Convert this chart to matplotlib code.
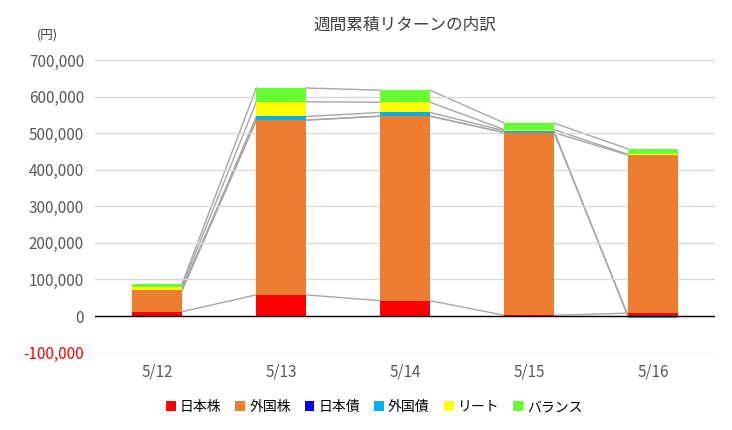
import numpy as np
import matplotlib.pyplot as plt

plt.rcParams['font.family'] = 'Noto Sans CJK JP'

dates = ['5/12', '5/13', '5/14', '5/15', '5/16']
series = ['日本株', '外国株', '日本債', '外国債', 'リート', 'バランス']
colors = ['#ff0000', '#ed7d31', '#0000ff', '#00b0f0', '#ffff00', '#66ff33']
values = [
    [12000, 58000, 42000, 2000, 8000],        # 日本株
    [58000, 478000, 505000, 500000, 432000],  # 外国株
    [0, 0, 0, 0, -1000],                      # 日本債
    [2000, 10000, 10000, 5000, -3000],        # 外国債
    [8000, 40000, 28000, 3000, 2000],         # リート
    [8000, 38000, 33000, 18000, 15000],       # バランス
]

fig, ax = plt.subplots(figsize=(7.32, 4.30), dpi=100)
fig.subplots_adjust(left=0.13, right=0.977, top=0.86, bottom=0.18)

x = np.arange(len(dates))
w = 0.4
pos = np.zeros(len(dates))
neg = np.zeros(len(dates))
tops = []
for name, c, v in zip(series, colors, values):
    v = np.array(v, dtype=float)
    base = np.where(v >= 0, pos, neg)
    ax.bar(x, v, w, bottom=base, color=c, label=name, zorder=2)
    pos = np.where(v >= 0, pos + v, pos)
    neg = np.where(v < 0, neg + v, neg)
    tops.append(base + v)

for t in tops:
    for i in range(len(dates) - 1):
        ax.plot([x[i] + w / 2, x[i + 1] - w / 2], [t[i], t[i + 1]],
                color='#a6a6a6', lw=1, zorder=1)

ax.axhline(0, color='black', lw=1, zorder=3)
ax.set_ylim(-100000, 700000)
ax.set_xlim(-0.5, 4.5)
ax.set_yticks(range(-100000, 700001, 100000))
ax.set_yticklabels([f'{v:,}' for v in range(-100000, 700001, 100000)])
ax.get_yticklabels()[0].set_color('red')
ax.set_xticks(x)
ax.set_xticklabels(dates)
ax.grid(axis='y', color='#d9d9d9', lw=1, zorder=0)
ax.tick_params(length=0, labelsize=11, colors='#595959', pad=8)
ax.get_yticklabels()[0].set_color('red')
for s in ax.spines.values():
    s.set_visible(False)

ax.set_title('週間累積リターンの内訳', fontsize=12, color='#404040', pad=22)
fig.text(0.05, 0.91, '(円)', fontsize=9, color='#404040')
ax.legend(loc='upper center', bbox_to_anchor=(0.45, -0.12), ncol=6, frameon=False,
          fontsize=10, handlelength=0.7, handleheight=0.7, columnspacing=1.0,
          handletextpad=0.3)

fig.savefig('out.png')
